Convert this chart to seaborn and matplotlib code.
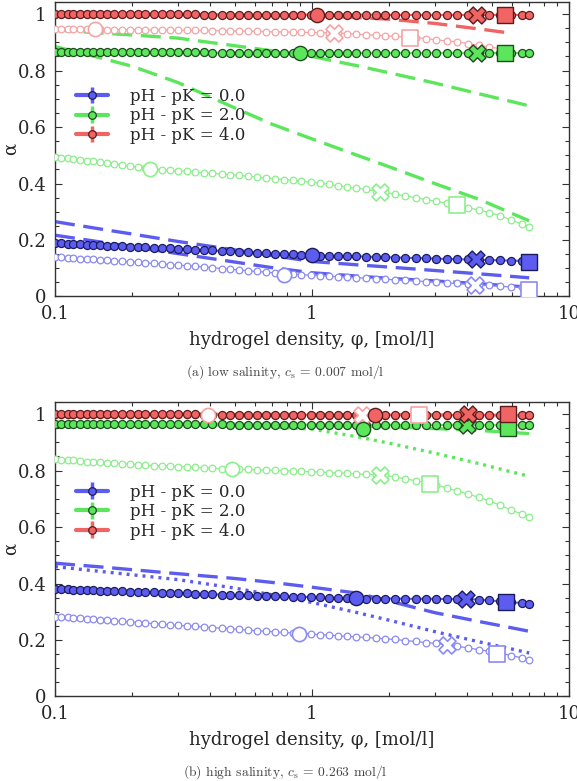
import numpy as np
import seaborn as sns
import matplotlib.pyplot as plt
from matplotlib.ticker import FixedLocator, FixedFormatter, MultipleLocator, LogLocator, NullFormatter

sns.set_theme(style="ticks")
plt.rcParams['font.family'] = ['DejaVu Serif', 'DejaVu Sans']
plt.rcParams['mathtext.fontset'] = 'cm'

# hydrogel density grid of the simulation points
phi = [0.100, 0.106, 0.112, 0.118, 0.125, 0.133, 0.141, 0.150, 0.160, 0.170,
       0.182, 0.195, 0.210, 0.225, 0.242, 0.260, 0.280, 0.300, 0.325, 0.350,
       0.380, 0.410, 0.445, 0.480, 0.520, 0.565, 0.610, 0.660, 0.715, 0.775,
       0.840, 0.910, 0.990, 1.07, 1.16, 1.26, 1.37, 1.49, 1.62, 1.77,
       1.93, 2.11, 2.31, 2.53, 2.77, 3.04, 3.34, 3.67, 4.04, 4.45,
       4.90, 5.40, 5.95, 6.55, 7.00]
# grid of the theory curves
phi_line = [0.1, 0.15, 0.2, 0.3, 0.5, 0.7, 1.0, 1.5, 2.0, 3.0, 4.5, 6.0, 7.0]

labels = ['pH - pK = 0.0', 'pH - pK = 2.0', 'pH - pK = 4.0']

# ---- (a) low salinity ----
a_blue_filled = [0.189, 0.188, 0.187, 0.186, 0.185, 0.184, 0.183, 0.181, 0.180, 0.179,
                 0.178, 0.176, 0.175, 0.174, 0.173, 0.171, 0.170, 0.169, 0.167, 0.166,
                 0.164, 0.163, 0.161, 0.160, 0.158, 0.157, 0.155, 0.154, 0.152, 0.151,
                 0.149, 0.148, 0.146, 0.145, 0.144, 0.144, 0.143, 0.142, 0.141, 0.140,
                 0.139, 0.138, 0.137, 0.136, 0.135, 0.134, 0.133, 0.132, 0.131, 0.130,
                 0.129, 0.128, 0.127, 0.126, 0.125]
a_green_filled = [0.866, 0.866, 0.866, 0.866, 0.865, 0.865, 0.865, 0.865, 0.865, 0.865,
                  0.865, 0.865, 0.864, 0.864, 0.864, 0.864, 0.864, 0.864, 0.864, 0.864,
                  0.864, 0.863, 0.863, 0.863, 0.863, 0.863, 0.863, 0.863, 0.863, 0.863,
                  0.863, 0.863, 0.863, 0.862, 0.862, 0.862, 0.862, 0.862, 0.862, 0.862,
                  0.862, 0.862, 0.862, 0.862, 0.862, 0.862, 0.862, 0.862, 0.862, 0.862,
                  0.862, 0.862, 0.862, 0.862, 0.862]
a_red_filled = [0.999, 0.999, 0.999, 0.999, 0.999, 0.999, 0.999, 0.999, 0.999, 0.999,
                0.999, 0.999, 0.999, 0.999, 0.999, 0.999, 0.999, 0.999, 0.999, 0.999,
                0.998, 0.998, 0.998, 0.998, 0.998, 0.998, 0.998, 0.998, 0.998, 0.998,
                0.998, 0.998, 0.998, 0.998, 0.998, 0.998, 0.998, 0.998, 0.998, 0.998,
                0.997, 0.997, 0.997, 0.997, 0.997, 0.997, 0.997, 0.997, 0.997, 0.997,
                0.997, 0.997, 0.997, 0.997, 0.997]
a_blue_open = [0.140, 0.139, 0.137, 0.136, 0.134, 0.133, 0.131, 0.129, 0.128, 0.126,
               0.124, 0.123, 0.121, 0.119, 0.117, 0.115, 0.113, 0.111, 0.109, 0.107,
               0.104, 0.102, 0.099, 0.096, 0.094, 0.091, 0.089, 0.086, 0.084, 0.081,
               0.079, 0.077, 0.075, 0.074, 0.072, 0.070, 0.068, 0.066, 0.065, 0.063,
               0.061, 0.059, 0.058, 0.055, 0.053, 0.051, 0.048, 0.046, 0.044, 0.041,
               0.039, 0.036, 0.034, 0.032, 0.030]
a_green_open = [0.495, 0.492, 0.489, 0.487, 0.484, 0.481, 0.478, 0.475, 0.471, 0.468,
                0.465, 0.461, 0.457, 0.454, 0.451, 0.449, 0.447, 0.445, 0.443, 0.440,
                0.438, 0.436, 0.433, 0.431, 0.429, 0.426, 0.423, 0.420, 0.417, 0.414,
                0.411, 0.408, 0.405, 0.401, 0.397, 0.392, 0.388, 0.383, 0.379, 0.374,
                0.369, 0.362, 0.356, 0.350, 0.343, 0.337, 0.330, 0.324, 0.315, 0.306,
                0.297, 0.286, 0.271, 0.257, 0.246]
# red open series stops at phi = 5.95
a_red_open = [0.947, 0.947, 0.946, 0.946, 0.946, 0.946, 0.946, 0.946, 0.945, 0.945,
              0.945, 0.945, 0.944, 0.944, 0.944, 0.944, 0.943, 0.943, 0.943, 0.942,
              0.942, 0.941, 0.941, 0.940, 0.940, 0.939, 0.939, 0.938, 0.937, 0.937,
              0.936, 0.935, 0.935, 0.934, 0.934, 0.933, 0.931, 0.929, 0.927, 0.925,
              0.923, 0.921, 0.919, 0.917, 0.913, 0.909, 0.905, 0.902, 0.895, 0.889,
              0.884, 0.877, 0.862]

a_blue_dash1 = [0.265, 0.239, 0.221, 0.195, 0.165, 0.145, 0.124, 0.112, 0.104, 0.092, 0.080, 0.071, 0.066]
a_blue_dash2 = [0.217, 0.193, 0.176, 0.152, 0.122, 0.102, 0.084, 0.072, 0.064, 0.055, 0.045, 0.037, 0.033]
a_green_dash1 = [0.944, 0.933, 0.926, 0.915, 0.888, 0.870, 0.850, 0.817, 0.792, 0.756, 0.717, 0.690, 0.675]
a_green_dash2 = [0.885, 0.845, 0.815, 0.758, 0.668, 0.610, 0.558, 0.500, 0.459, 0.400, 0.343, 0.294, 0.268]
a_red_dash = [1.000, 1.000, 0.999, 0.998, 0.997, 0.995, 0.993, 0.988, 0.982, 0.967, 0.947, 0.932]

# highlighted points (blue, green, red)
a_circle_x, a_circle_y = [1.00, 0.90, 1.05], [0.146, 0.862, 0.998]
a_cross_x, a_cross_y = [4.35, 4.39, 4.39], [0.131, 0.862, 0.998]
a_square_x, a_square_y = [7.00, 5.63, 5.63], [0.122, 0.862, 0.998]
a_ocircle_x, a_ocircle_y = [0.78, 0.234, 0.143], [0.077, 0.451, 0.947]
a_ocross_x, a_ocross_y = [4.30, 1.84, 1.22], [0.042, 0.371, 0.933]
a_osquare_x, a_osquare_y = [7.00, 3.66, 2.40], [0.022, 0.324, 0.917]

# ---- (b) high salinity ----
b_blue_filled = [0.380, 0.379, 0.379, 0.378, 0.377, 0.376, 0.376, 0.375, 0.374, 0.373,
                 0.372, 0.371, 0.371, 0.370, 0.369, 0.368, 0.367, 0.366, 0.365, 0.364,
                 0.363, 0.362, 0.361, 0.360, 0.359, 0.358, 0.357, 0.356, 0.355, 0.355,
                 0.354, 0.353, 0.352, 0.351, 0.350, 0.349, 0.348, 0.347, 0.347, 0.347,
                 0.347, 0.347, 0.346, 0.346, 0.346, 0.346, 0.345, 0.345, 0.345, 0.343,
                 0.340, 0.337, 0.334, 0.331, 0.329]
b_green_filled = [0.966, 0.966, 0.966, 0.966, 0.966, 0.966, 0.965, 0.965, 0.965, 0.965,
                  0.965, 0.965, 0.965, 0.965, 0.965, 0.964, 0.964, 0.964, 0.964, 0.964,
                  0.964, 0.964, 0.964, 0.963, 0.963, 0.963, 0.963, 0.963, 0.963, 0.963,
                  0.963, 0.963, 0.962, 0.962, 0.962, 0.962, 0.962, 0.962, 0.962, 0.962,
                  0.962, 0.962, 0.962, 0.962, 0.962, 0.962, 0.961, 0.961, 0.961, 0.961,
                  0.961, 0.961, 0.961, 0.961, 0.961]
b_red_filled = [0.999, 0.999, 0.999, 0.999, 0.999, 0.999, 0.999, 0.999, 0.999, 0.999,
                0.999, 0.999, 0.999, 0.999, 0.999, 0.999, 0.999, 0.999, 0.999, 0.999,
                0.998, 0.998, 0.998, 0.998, 0.998, 0.998, 0.998, 0.998, 0.998, 0.998,
                0.998, 0.998, 0.998, 0.998, 0.998, 0.998, 0.998, 0.998, 0.998, 0.998,
                0.997, 0.997, 0.997, 0.997, 0.997, 0.997, 0.997, 0.997, 0.997, 0.997,
                0.997, 0.997, 0.997, 0.997, 0.997]
b_blue_open = [0.283, 0.281, 0.280, 0.278, 0.277, 0.275, 0.273, 0.272, 0.270, 0.268,
               0.266, 0.264, 0.262, 0.260, 0.258, 0.256, 0.254, 0.252, 0.250, 0.248,
               0.246, 0.244, 0.242, 0.240, 0.238, 0.235, 0.233, 0.231, 0.229, 0.227,
               0.225, 0.223, 0.221, 0.219, 0.217, 0.215, 0.213, 0.211, 0.209, 0.207,
               0.204, 0.202, 0.198, 0.195, 0.191, 0.188, 0.183, 0.178, 0.172, 0.166,
               0.160, 0.154, 0.145, 0.137, 0.130]
b_green_open = [0.840, 0.838, 0.837, 0.836, 0.834, 0.832, 0.831, 0.829, 0.827, 0.826,
                0.824, 0.823, 0.821, 0.820, 0.818, 0.817, 0.816, 0.814, 0.813, 0.811,
                0.810, 0.808, 0.807, 0.805, 0.805, 0.804, 0.803, 0.802, 0.801, 0.800,
                0.798, 0.797, 0.796, 0.795, 0.793, 0.792, 0.790, 0.788, 0.787, 0.785,
                0.783, 0.777, 0.771, 0.764, 0.758, 0.750, 0.739, 0.728, 0.717, 0.706,
                0.693, 0.677, 0.661, 0.646, 0.635]
b_red_open = [0.996, 0.996, 0.996, 0.996, 0.996, 0.996, 0.996, 0.996, 0.996, 0.996,
              0.996, 0.996, 0.996, 0.996, 0.996, 0.996, 0.996, 0.996, 0.996, 0.996,
              0.996, 0.996, 0.996, 0.996, 0.996, 0.996, 0.996, 0.996, 0.996, 0.996,
              0.995, 0.995, 0.995, 0.995, 0.995, 0.995, 0.995, 0.995, 0.995, 0.995,
              0.995, 0.995, 0.995, 0.994, 0.994, 0.994, 0.994, 0.994, 0.994, 0.994,
              0.993, 0.993, 0.993, 0.993, 0.993]

b_blue_dash = [0.472, 0.459, 0.449, 0.435, 0.418, 0.404, 0.387, 0.366, 0.338, 0.297, 0.265, 0.243, 0.231]
b_blue_dot = [0.460, 0.443, 0.431, 0.414, 0.384, 0.360, 0.333, 0.297, 0.270, 0.230, 0.193, 0.168, 0.154]
b_green_dash = [0.966, 0.966, 0.965, 0.965, 0.964, 0.963, 0.962, 0.958, 0.955, 0.949, 0.942, 0.935, 0.931]
b_green_dot = [0.968, 0.967, 0.966, 0.964, 0.960, 0.955, 0.947, 0.920, 0.897, 0.862, 0.824, 0.795, 0.780]
b_red_dash = [1.000, 1.000, 1.000, 1.000, 0.999, 0.999, 0.999, 0.998, 0.998, 0.997, 0.996, 0.995, 0.994]

b_circle_x, b_circle_y = [1.49, 1.58, 1.76], [0.348, 0.948, 0.998]
b_cross_x, b_cross_y = [3.99, 4.00, 4.05], [0.346, 0.963, 0.999]
b_square_x, b_square_y = [5.70, 5.80, 5.80], [0.334, 0.952, 0.999]
b_ocircle_x, b_ocircle_y = [0.89, 0.49, 0.394], [0.222, 0.805, 0.996]
b_ocross_x, b_ocross_y = [3.35, 1.84, 1.56], [0.181, 0.784, 0.996]
b_osquare_x, b_osquare_y = [5.27, 2.87, 2.62], [0.151, 0.752, 0.996]

colors = ['#5c5cf0', '#5ce65c', '#f06464']
edges = ['#1c1c5c', '#1d4d1d', '#5c1c1c']
lights = ['#8a8af4', '#8cee8c', '#f4a4a4']


def dense_filled(ax, x, y, i):
    sns.lineplot(x=x, y=y, ax=ax, color=colors[i], lw=1.5, marker='o', markersize=5.8,
                 markerfacecolor=colors[i], markeredgecolor=edges[i], markeredgewidth=0.9,
                 estimator=None, sort=False, zorder=5)


def dense_open(ax, x, y, i):
    sns.lineplot(x=x, y=y, ax=ax, color=lights[i], lw=0.9, marker='o', markersize=4.8,
                 markerfacecolor='white', markeredgecolor=lights[i], markeredgewidth=0.9,
                 estimator=None, sort=False, zorder=3)


def theory(ax, x, y, i, style):
    ls = (0, (6, 2.6)) if style == 'dash' else (0, (0.9, 1.5))
    sns.lineplot(x=x, y=y, ax=ax, color=colors[i], lw=2.4, linestyle=ls,
                 estimator=None, sort=False, zorder=2)


def big_markers(ax, pts, filled):
    for (xs, ys), m, s in zip(pts, ['o', 'X', 's'], [105, 150, 120]):
        for i in range(3):
            if filled:
                sns.scatterplot(x=[xs[i]], y=[ys[i]], ax=ax, marker=m, s=s, color=colors[i],
                                edgecolor=edges[i], linewidth=1.0, zorder=6)
            else:
                sns.scatterplot(x=[xs[i]], y=[ys[i]], ax=ax, marker=m, s=s, color='white',
                                edgecolor=lights[i], linewidth=1.2, zorder=5.5)


def style_axes(ax, leg_y):
    ax.set_xscale('log')
    ax.set_xlim(0.1, 10)
    ax.set_ylim(0, 1.043)
    ax.xaxis.set_major_locator(FixedLocator([0.1, 1, 10]))
    ax.xaxis.set_major_formatter(FixedFormatter(['0.1', '1', '10']))
    ax.xaxis.set_minor_locator(LogLocator(base=10, subs=np.arange(2, 10)))
    ax.xaxis.set_minor_formatter(NullFormatter())
    ax.yaxis.set_major_locator(FixedLocator([0, 0.2, 0.4, 0.6, 0.8, 1.0]))
    ax.yaxis.set_major_formatter(FixedFormatter(['0', '0.2', '0.4', '0.6', '0.8', '1']))
    ax.yaxis.set_minor_locator(MultipleLocator(0.05))
    ax.tick_params(which='both', direction='in', top=True, right=True, color='#333333',
                   labelsize=13, width=0.8)
    ax.tick_params(which='major', length=5, pad=6)
    ax.tick_params(which='minor', length=3)
    for sp in ax.spines.values():
        sp.set_color('#333333')
        sp.set_linewidth(1.0)
    ax.set_xlabel('hydrogel density, φ, [mol/l]', fontsize=13, labelpad=6)
    ax.set_ylabel('α', fontsize=13)
    ax.yaxis.set_label_coords(-0.068, 0.5)

    for i in range(3):
        ax.errorbar([np.nan], [np.nan], yerr=[0.1], fmt='-o', color=colors[i], lw=3,
                    elinewidth=2.5, ms=5.5, mfc=colors[i], mec=edges[i], mew=0.9,
                    label=labels[i])
    ax.legend(loc='center left', bbox_to_anchor=(0.04, leg_y), frameon=False, fontsize=12,
              handlelength=1.95, handletextpad=1.3, labelspacing=0.15, borderpad=0,
              borderaxespad=0)


fig = plt.figure(figsize=(5.77, 7.81), dpi=100)
ax_a = fig.add_axes([0.0953, 0.6204, 0.8908, 0.3771])
ax_b = fig.add_axes([0.0953, 0.1082, 0.8908, 0.3771])

# panel (a)
theory(ax_a, phi_line, a_blue_dash1, 0, 'dash')
theory(ax_a, phi_line, a_blue_dash2, 0, 'dash')
theory(ax_a, phi_line, a_green_dash1, 1, 'dash')
theory(ax_a, phi_line, a_green_dash2, 1, 'dash')
theory(ax_a, phi_line[:12], a_red_dash, 2, 'dash')
dense_open(ax_a, phi, a_blue_open, 0)
dense_open(ax_a, phi, a_green_open, 1)
dense_open(ax_a, phi[:53], a_red_open, 2)
big_markers(ax_a, [(a_ocircle_x, a_ocircle_y), (a_ocross_x, a_ocross_y),
                   (a_osquare_x, a_osquare_y)], filled=False)
dense_filled(ax_a, phi, a_blue_filled, 0)
dense_filled(ax_a, phi, a_green_filled, 1)
dense_filled(ax_a, phi, a_red_filled, 2)
big_markers(ax_a, [(a_circle_x, a_circle_y), (a_cross_x, a_cross_y),
                   (a_square_x, a_square_y)], filled=True)
style_axes(ax_a, 0.613)

# panel (b)
theory(ax_b, phi_line, b_blue_dash, 0, 'dash')
theory(ax_b, phi_line, b_blue_dot, 0, 'dot')
theory(ax_b, phi_line, b_green_dash, 1, 'dash')
theory(ax_b, phi_line, b_green_dot, 1, 'dot')
theory(ax_b, phi_line, b_red_dash, 2, 'dash')
dense_open(ax_b, phi, b_blue_open, 0)
dense_open(ax_b, phi, b_green_open, 1)
dense_open(ax_b, phi, b_red_open, 2)
big_markers(ax_b, [(b_ocircle_x, b_ocircle_y), (b_ocross_x, b_ocross_y),
                   (b_osquare_x, b_osquare_y)], filled=False)
dense_filled(ax_b, phi, b_blue_filled, 0)
dense_filled(ax_b, phi, b_green_filled, 1)
dense_filled(ax_b, phi, b_red_filled, 2)
big_markers(ax_b, [(b_circle_x, b_circle_y), (b_cross_x, b_cross_y),
                   (b_square_x, b_square_y)], filled=True)
style_axes(ax_b, 0.628)

fig.text(0.494, 0.5237, r'(a) low salinity, $c_\mathrm{s}$ = 0.007 mol/l', ha='center',
         va='center', fontsize=9.8, family='cmr10', color='#444444')
fig.text(0.494, 0.0115, r'(b) high salinity, $c_\mathrm{s}$ = 0.263 mol/l', ha='center',
         va='center', fontsize=9.8, family='cmr10', color='#444444')

fig.savefig('out.png', dpi=100)
